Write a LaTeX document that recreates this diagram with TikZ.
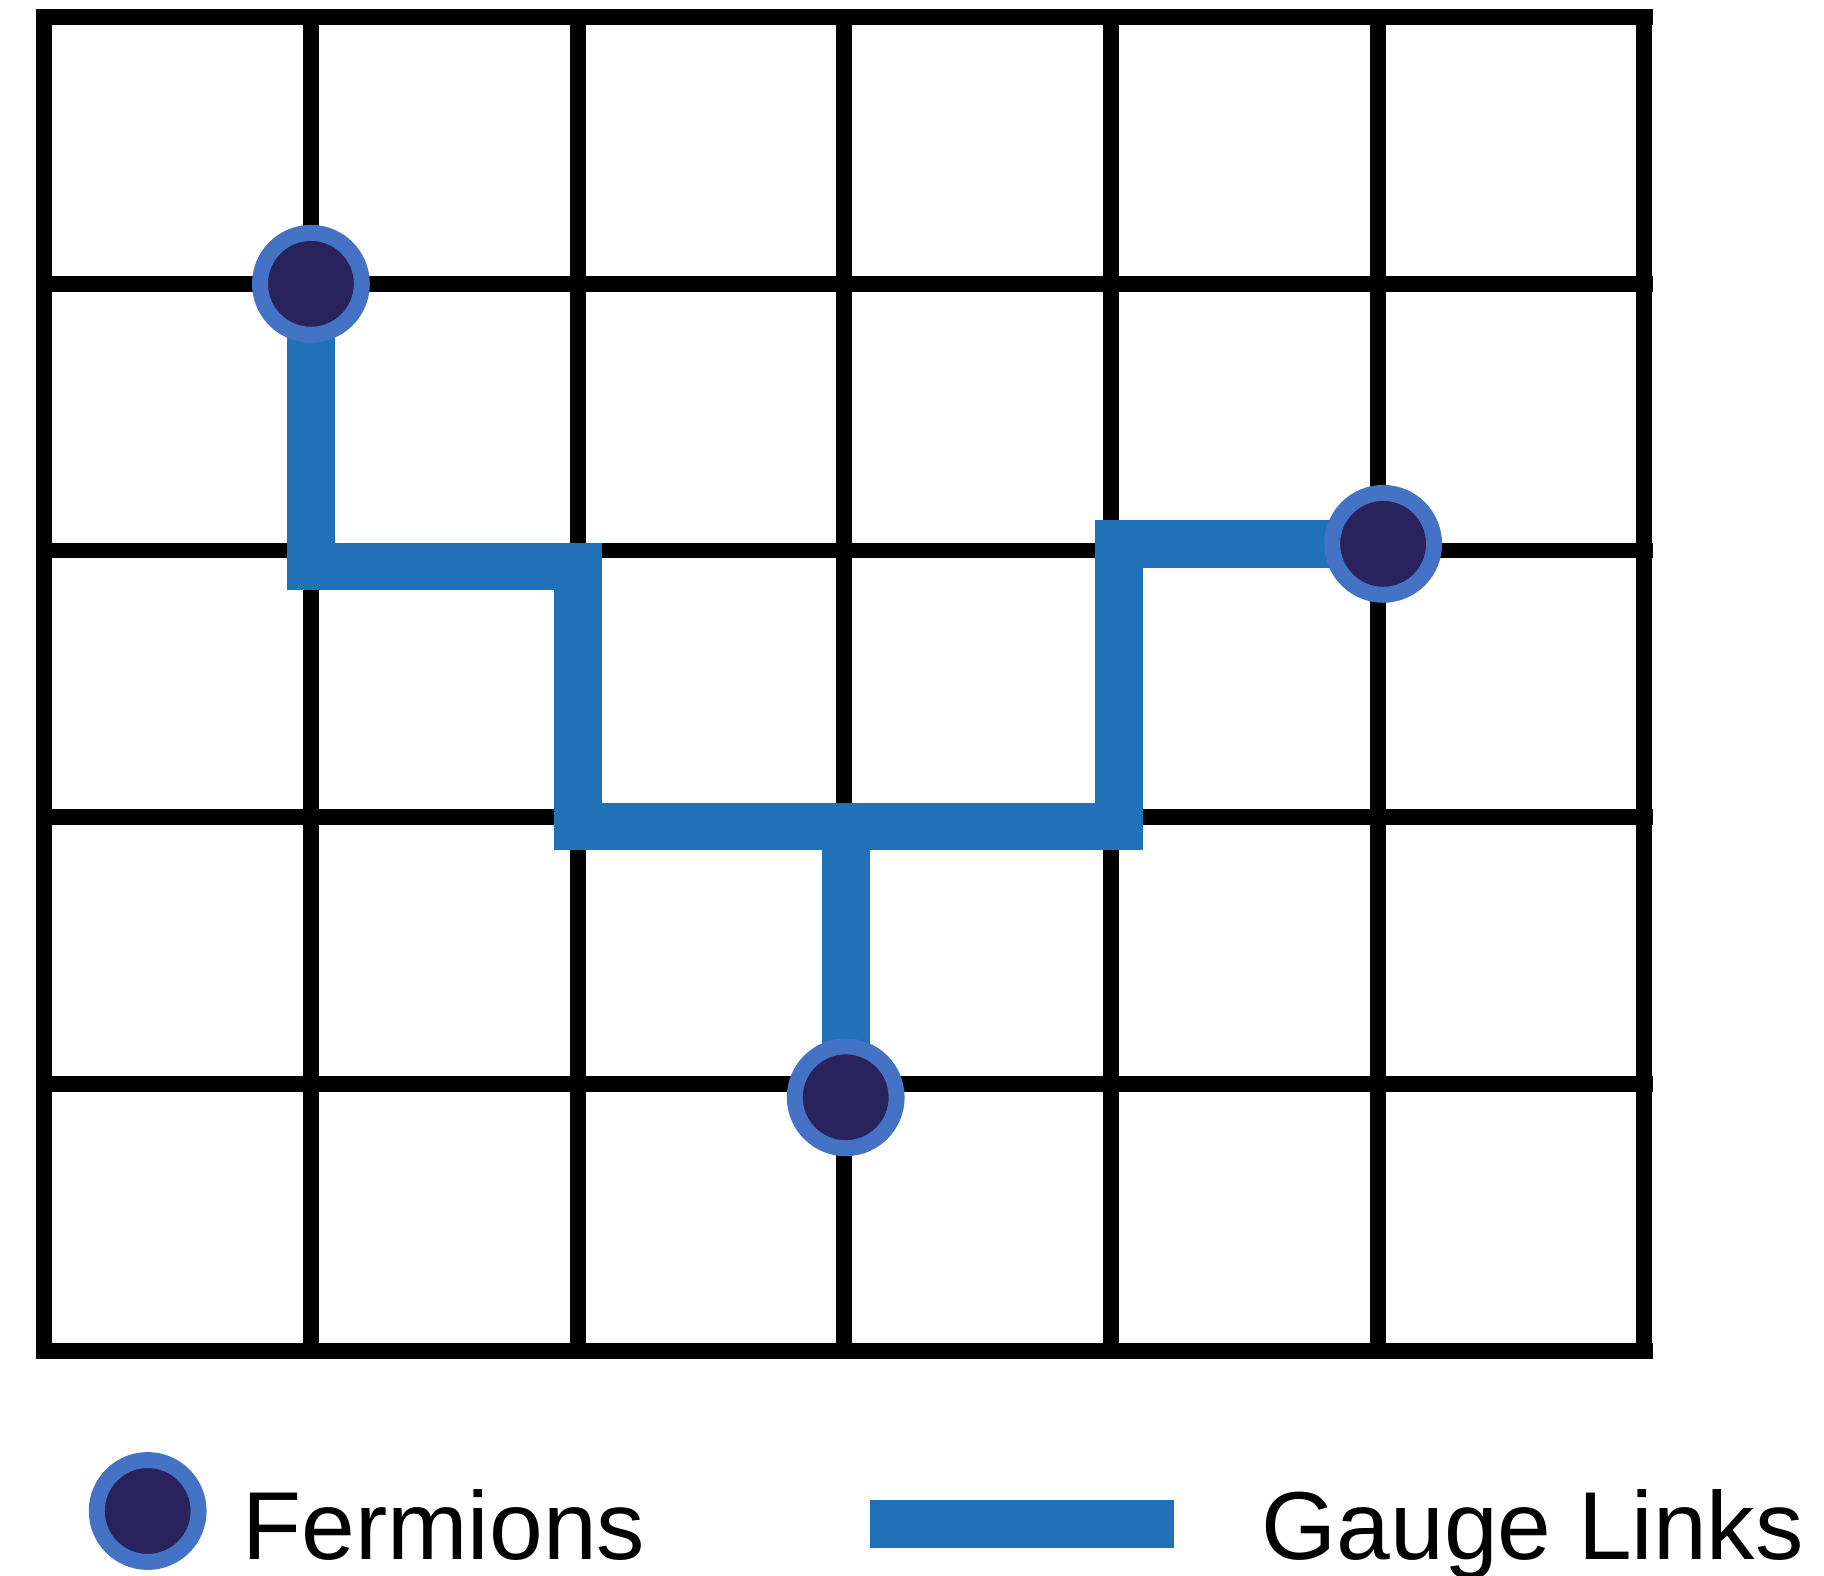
\documentclass[tikz,border=0pt]{standalone}
\usepackage{fontspec}
\setmainfont{Liberation Sans}
\usepackage{tikz}
\usetikzlibrary{positioning, backgrounds}
\usepackage{xcolor}
\definecolor{latnavy}{HTML}{2A225D}
\definecolor{latring}{HTML}{4472C4}
\definecolor{latlink}{HTML}{2171B8}

\begin{document}
\begin{tikzpicture}[
    gridline/.style={draw=black, line width=1.7pt, line cap=rect},
    fermion/.style={circle, draw=latring, fill=latnavy, line width=1.7pt,
                    minimum size=0.382cm, inner sep=0pt},
    gauge/.style={draw=latlink, line width=5.1pt, line join=miter},
    legtext/.style={anchor=base west, inner sep=0pt,
                    font=\fontsize{10.3}{12}\selectfont}
  ]
    \useasboundingbox (-0.1657,-0.8414) rectangle (6.673,5.064);

    % fermions on the lattice
    \node[fermion] (f1) at (1,4) {};
    \node[fermion] (f2) at (5.02,3.025) {};
    \node[fermion] (f3) at (3.005,0.95) {};

    % legend
    \node[fermion] (lf) at (0.388,-0.601) {};
    \node[legtext] (lft) at (0.737,-0.782) {Fermions};
    \coordinate (lb1) at (3.096,-0.650);
    \coordinate (lb2) at (4.236,-0.650);
    \node[legtext] (lgt) at (4.557,-0.782) {Gauge Links};

    \begin{scope}[on background layer]
      \draw[gridline] (0,0) grid (6,5);
      % gauge links
      \coordinate (j) at (3.005,1.965);
      \draw[gauge] (f1.center) |- (2,2.94) |- (4.03,1.965) |- (f2.center);
      \draw[gauge] (j) -- (f3.center);
      \draw[gauge] (lb1) -- (lb2);
    \end{scope}
\end{tikzpicture}
\end{document}
